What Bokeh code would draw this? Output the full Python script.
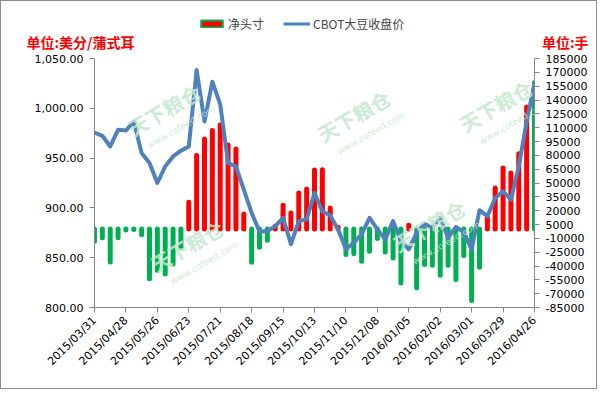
import pandas as pd
from math import pi
from bokeh.plotting import figure
from bokeh.layouts import column
from bokeh.models import (Range1d, LinearAxis, FixedTicker, NumeralTickFormatter, Label,
                          Legend, LegendItem, ColumnDataSource)
from bokeh.embed import file_html
from bokeh.resources import INLINE

# ---------------- data ----------------
week_dates = pd.date_range("2015-03-31", periods=57, freq="7D").strftime("%Y/%m/%d").tolist()

net_position = [
    -13200, -9500, -35600, -9500, -1000, -500, -6000, -53700, -45000, -48600,
    -37700, -19700, 29000, 79700, 97800, 106800, 113000, 91300, 86900, 16500,
    -36000, -19700, -12000, 3000, 25800, 17600, 39200, 43600, 64000, 64500,
    23000, 2000, -27600, -26600, -34900, -24000, -10300, -24700, -31200, -58300,
    4100, -63700, -38500, -39200, -50000, -39200, -54700, -28700, -77500, -41400,
    13200, 44700, 66300, 60900, 81800, 132500, 159100,
]

cbot_close = [
    975.7, 972.4, 961.7, 978.4, 977.7, 986.7, 955.0, 945.0, 925.0, 941.7,
    951.7, 957.4, 961.7, 1038.4, 986.7, 1026.7, 1004.0, 945.0, 941.7, 918.4,
    895.0, 876.0, 876.7, 881.7, 890.0, 863.5, 886.7, 888.5, 915.0, 896.7,
    892.4, 878.4, 858.4, 865.0, 873.4, 890.0, 878.4, 868.4, 886.7, 866.7,
    858.4, 875.0, 884.0, 880.0, 890.0, 870.0, 881.0, 875.7, 858.4, 897.7,
    891.7, 910.0, 916.7, 908.4, 941.7, 986.7, 1025.0,
]

left_ticks = [800, 850, 900, 950, 1000, 1050]
right_ticks = list(range(-85000, 185001, 15000))
label_every = 4

series_names = ["净头寸", "CBOT大豆收盘价"]
left_unit = "单位:美分/蒲式耳"
right_unit = "单位:手"

RED = "#FF0000"
GREEN = "#00B050"
BLUE = "#4F81BD"
AXIS = "#868686"
WM = "#C3E7CD"
NUM_FONT = "DejaVu Sans"
CJK_FONT = "Noto Sans CJK SC"

W = 595
HEAD_H = 52

idx = list(range(len(week_dates)))
colors = [RED if v > 0 else GREEN for v in net_position]
colors[-1] = GREEN  # latest week is drawn green in the reference

src = ColumnDataSource(dict(x=idx, net=net_position, zero=[0] * len(idx),
                            price=cbot_close, color=colors))

# ---------------- header (legend + unit titles) ----------------
head = figure(frame_width=W, frame_height=HEAD_H, x_range=Range1d(0, 1), y_range=Range1d(0, 1),
              x_axis_type=None, y_axis_type=None, min_border=0,
              output_backend="svg", toolbar_location=None)
if "frame_align" in head.properties():
    head.frame_align = False
head.outline_line_color = None
head.xgrid.visible = False
head.ygrid.visible = False
# legend-only renderers, kept outside the visible range
h_bar = head.quad(left=[-5], right=[-4], top=[-4], bottom=[-5], fill_color=RED,
                  line_color=GREEN, line_width=2)
h_line = head.line(x=[-5, -4], y=[-5, -5], line_width=3, line_color=BLUE)
legend = Legend(items=[LegendItem(label=series_names[0], renderers=[h_bar]),
                       LegendItem(label=series_names[1], renderers=[h_line])],
                location=(197, 20), orientation="horizontal",
                border_line_color=None, background_fill_alpha=0,
                padding=0, margin=0, spacing=19, glyph_width=27, glyph_height=9,
                label_standoff=3, label_height=20,
                label_text_font=CJK_FONT, label_text_font_size="12px")
head.add_layout(legend)
head.add_layout(Label(x=25, y=11.5, x_units="screen", y_units="screen", text=left_unit,
                      text_color="red", text_font=CJK_FONT, text_font_style="bold",
                      text_font_size="14px", text_baseline="middle"))
head.add_layout(Label(x=587, y=11.5, x_units="screen", y_units="screen", text=right_unit,
                      text_color="red", text_font=CJK_FONT, text_font_style="bold",
                      text_font_size="14px", text_baseline="middle", text_align="right"))

# ---------------- main chart ----------------
p = figure(width=W, height=335,
           min_border_left=93, min_border_right=62, min_border_top=5, min_border_bottom=81,
           x_range=Range1d(0, len(idx) - 1), y_range=Range1d(800, 1050),
           output_backend="svg", toolbar_location=None)
p.extra_y_ranges = {"net": Range1d(-85000, 185000)}
p.outline_line_color = None
p.xgrid.visible = False
p.ygrid.visible = False

ly = p.yaxis[0]
ly.ticker = FixedTicker(ticks=left_ticks)
ly.formatter = NumeralTickFormatter(format="0,0.00")

ry = LinearAxis(y_range_name="net", ticker=FixedTicker(ticks=right_ticks),
                formatter=NumeralTickFormatter(format="0"))
p.add_layout(ry, "right")

xa = p.xaxis[0]
xa.ticker = FixedTicker(ticks=list(range(0, len(idx), label_every)))
xa.major_label_overrides = {i: week_dates[i] for i in range(0, len(idx), label_every)}
xa.major_label_orientation = pi / 4

for ax in [ly, ry, xa]:
    ax.axis_line_color = AXIS
    ax.major_tick_line_color = AXIS
    ax.minor_tick_line_color = None
    ax.major_tick_in = 0
    ax.major_tick_out = 5
    ax.major_label_text_font = NUM_FONT
    ax.major_label_text_font_size = "11px"
    ax.major_label_text_color = "black"
    ax.major_label_standoff = 6

# watermarks (light, behind the data)
for (wx, wy) in [(42, 165), (232, 159), (374, 169), (65, 29), (307, 49)]:
    p.add_layout(Label(x=wx, y=wy, x_units="screen", y_units="screen", text="天下粮仓",
                       angle=pi / 6, text_font=CJK_FONT, text_font_size="20px",
                       text_font_style="bold", text_color=WM, text_alpha=0.85))
    p.add_layout(Label(x=wx + 14, y=wy - 8, x_units="screen", y_units="screen",
                       text="www.cofeed.com", angle=pi / 6, text_font=NUM_FONT,
                       text_font_size="9px", text_color=WM, text_alpha=0.85))

# bars drawn as thick rounded segments
p.segment(x0="x", y0="zero", x1="x", y1="net", source=src, line_width=5,
          line_cap="round", line_color="color", y_range_name="net")

# price line
p.line("x", "price", source=src, line_width=4, line_color=BLUE,
       line_join="round", line_cap="round")

layout = column(head, p, spacing=0,
                styles={"border": "1px solid #8c8c8c"})

open("out.html", "w").write(file_html(layout, INLINE))
